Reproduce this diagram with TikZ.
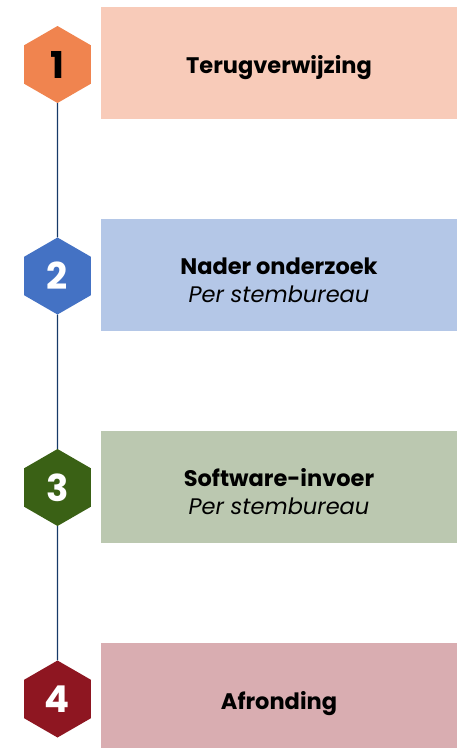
\documentclass[tikz,border=0pt]{standalone}
\usepackage{fontspec}
\setmainfont{Poppins}
\usetikzlibrary{shapes.geometric}
\definecolor{hexone}{HTML}{F0844F}
\definecolor{boxone}{HTML}{F8CBB9}
\definecolor{hextwo}{HTML}{4472C4}
\definecolor{boxtwo}{HTML}{B4C7E7}
\definecolor{hexthree}{HTML}{3A6115}
\definecolor{boxthree}{HTML}{BBC8B0}
\definecolor{hexfour}{HTML}{8E1621}
\definecolor{boxfour}{HTML}{D9ADB1}
\definecolor{stem}{HTML}{173A68}
\begin{document}
\begin{tikzpicture}
    [x=1pt,y=-1pt,
     hexa/.style={shape=regular polygon,regular polygon sides=6,shape border rotate=90,
       minimum size=77pt,inner sep=0pt,font=\fontsize{37}{37}\selectfont\bfseries},
     stage/.style={shape=rectangle,minimum width=356pt,minimum height=112pt,inner sep=0pt},
     caption/.style={align=center,inner sep=0pt,font=\fontsize{22.5}{28}\selectfont},
     stem line/.style={draw=stem,line width=1.3pt}]
    \useasboundingbox (0,0) rectangle (457,748);
    \node [stage,fill=boxone] (s1) at (279,63) {};
    \node [stage,fill=boxtwo] (s2) at (279,275) {};
    \node [stage,fill=boxthree] (s3) at (279,487) {};
    \node [stage,fill=boxfour] (s4) at (279,699) {};
    \node [caption] (t1) at ([yshift=-5pt]s1.center) {\textbf{Terugverwijzing}};
    \node [caption] (t2) at ([yshift=-5pt]s2.center) {\textbf{Nader onderzoek}\\\textit{Per stembureau}};
    \node [caption] (t3) at ([yshift=-5pt]s3.center) {\textbf{Software-invoer}\\\textit{Per stembureau}};
    \node [caption] (t4) at ([yshift=-5pt]s4.center) {\textbf{Afronding}};
    \node [hexa,fill=hexone,text=black] (h1) at (57.5,64.5) {1};
    \node [hexa,fill=hextwo,text=white] (h2) at (57.5,276) {2};
    \node [hexa,fill=hexthree,text=white] (h3) at (57.5,487.5) {3};
    \node [hexa,fill=hexfour,text=white] (h4) at (57.5,699) {4};
    \draw [stem line] (h1.south) -- (h2.north);
    \draw [stem line] (h2.south) -- (h3.north);
    \draw [stem line] (h3.south) -- (h4.north);
  \end{tikzpicture}
\end{document}
